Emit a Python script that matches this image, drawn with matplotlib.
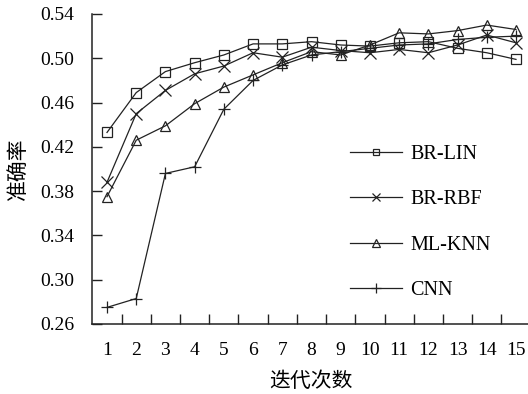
import matplotlib.pyplot as plt

# 迭代次数
iters = list(range(1, 16))

br_lin = [0.433, 0.469, 0.488, 0.496, 0.503, 0.513, 0.513, 0.515, 0.512, 0.511,
          0.514, 0.515, 0.509, 0.505, 0.499]
br_rbf = [0.388, 0.450, 0.471, 0.486, 0.493, 0.505, 0.501, 0.510, 0.507, 0.505,
          0.508, 0.505, 0.512, 0.521, 0.514]
ml_knn = [0.375, 0.426, 0.439, 0.459, 0.474, 0.485, 0.496, 0.506, 0.503, 0.512,
          0.523, 0.522, 0.525, 0.530, 0.526]
cnn = [0.275, 0.283, 0.396, 0.402, 0.454, 0.480, 0.494, 0.503, 0.506, 0.509,
       0.512, 0.513, 0.517, 0.519, 0.520]

yticks = [0.26, 0.30, 0.34, 0.38, 0.42, 0.46, 0.50, 0.54]

plt.rcParams['font.family'] = ['Liberation Serif', 'Noto Sans CJK SC']
plt.rcParams['font.size'] = 14

fig = plt.figure(figsize=(5.28, 3.94), dpi=100)
ax = fig.add_axes([92.4 / 528, 1 - 324 / 394, 438.2 / 528, 310 / 394])

col = '#222222'
style = dict(color=col, lw=0.9, mfc='none', mec=col, mew=0.9)
ax.plot(iters, br_lin, marker='s', ms=6.5, label='BR-LIN', **style)
ax.plot(iters, br_rbf, marker='x', ms=8, label='BR-RBF', **style)
ax.plot(iters, ml_knn, marker='^', ms=7, label='ML-KNN', **style)
ax.plot(iters, cnn, marker='+', ms=9, label='CNN', **style)

ax.set_xlim(0.5, 15.5)
ax.set_ylim(0.26, 0.54)
ax.set_yticks(yticks)
ax.set_yticklabels(['%.2f' % v for v in yticks])
ax.set_xticks(iters)
ax.set_xticks([i + 0.5 for i in iters[:-1]], minor=True)
ax.tick_params(axis='x', which='major', length=0, pad=13)
ax.tick_params(axis='x', which='minor', direction='in', length=7, width=1, color=col)
ax.tick_params(axis='y', direction='in', length=7, width=1, color=col, pad=13)

for s in ['top', 'right']:
    ax.spines[s].set_visible(False)
for s in ['left', 'bottom']:
    ax.spines[s].set_color(col)
    ax.spines[s].set_linewidth(1.1)

ax.set_xlabel('迭代次数', family=['Noto Sans CJK SC'], fontsize=15, labelpad=8)
ax.set_ylabel('准确率', family=['Noto Sans CJK SC'], fontsize=15, labelpad=8)

ax.legend(loc='upper left', bbox_to_anchor=(350 / 528, 1 - 145 / 394),
          bbox_transform=fig.transFigure, frameon=False, borderpad=0,
          borderaxespad=0, handlelength=2.6, handletextpad=0.4,
          labelspacing=1.3, fontsize=14.5, markerscale=0.75)

fig.savefig('out.png', dpi=100)
